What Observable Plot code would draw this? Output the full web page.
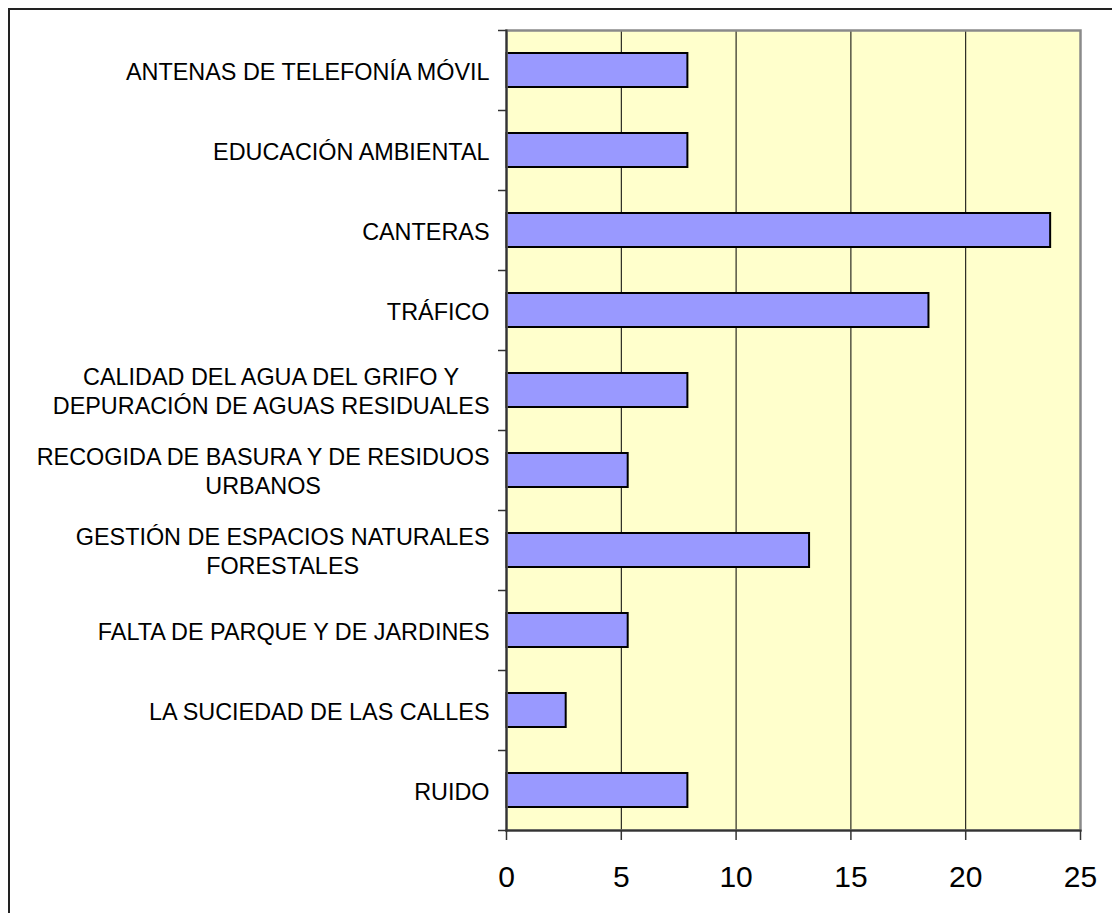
<!DOCTYPE html>
<html>
<head>
<meta charset="utf-8">
<script src="https://cdn.jsdelivr.net/npm/d3@7"></script>
<script src="https://cdn.jsdelivr.net/npm/@observablehq/plot@0.6"></script>
<style>
  html, body { margin: 0; padding: 0; background: #fff; overflow: hidden; }
  #wrap { position: relative; width: 1112px; height: 913px; }
  #border { position: absolute; left: 8px; top: 8px; width: 1200px; height: 1000px;
            border-left: 2px solid #222; border-top: 2px solid #222; box-sizing: border-box; pointer-events: none; }
  #chart { position: absolute; left: 0; top: 0; }
</style>
</head>
<body>
<div id="wrap"><div id="chart"></div><div id="border"></div></div>
<script>
const categories = [
  "ANTENAS DE TELEFONÍA MÓVIL",
  "EDUCACIÓN AMBIENTAL",
  "CANTERAS",
  "TRÁFICO",
  "CALIDAD DEL AGUA DEL GRIFO Y\nDEPURACIÓN DE AGUAS RESIDUALES",
  "RECOGIDA DE BASURA Y DE RESIDUOS\nURBANOS",
  "GESTIÓN DE ESPACIOS NATURALES\nFORESTALES",
  "FALTA DE PARQUE Y DE JARDINES",
  "LA SUCIEDAD DE LAS CALLES",
  "RUIDO"
];
const values = [7.9, 7.9, 23.7, 18.4, 7.9, 5.3, 13.2, 5.3, 2.6, 7.9];
const xTicks = [0, 5, 10, 15, 20, 25];
const gridTicks = [5, 10, 15, 20];

const data = categories.map((c, i) => ({category: c, value: values[i]}));

const W = 1112, H = 913;
const mL = 506, mR = 32, mT = 30, mB = 83;
const step = (H - mT - mB) / categories.length;

const chart = Plot.plot({
  width: W,
  height: H,
  marginLeft: mL,
  marginRight: mR,
  marginTop: mT,
  marginBottom: mB,
  style: {fontFamily: "'Liberation Sans', Arial, sans-serif", background: "transparent", color: "#000"},
  x: {domain: [0, 25], ticks: xTicks},
  y: {domain: categories, paddingInner: 0.575, paddingOuter: 0.2875},
  marks: [
    Plot.frame({fill: "#FFFFCC", stroke: null}),
    Plot.gridX(gridTicks, {stroke: "#000", strokeOpacity: 1, strokeWidth: 1}),
    Plot.barX(data, {x: "value", y: "category", fill: "#9999FF", stroke: "#000", strokeWidth: 2}),
    Plot.frame({stroke: "#8a8a8a", strokeWidth: 2.5}),
    Plot.frame({anchor: "left", stroke: "#333", strokeWidth: 2}),
    Plot.frame({anchor: "bottom", stroke: "#333", strokeWidth: 2}),
    Plot.ruleY(categories, {y: d => d, x1: 0, x2: 0, insetLeft: -8, dy: -step / 2, stroke: "#333", strokeWidth: 1.5}),
    Plot.ruleY(categories.slice(-1), {y: d => d, x1: 0, x2: 0, insetLeft: -8, dy: step / 2, stroke: "#333", strokeWidth: 1.5}),
    Plot.axisY({tickSize: 0, tickPadding: 17, fontSize: 23.4, lineHeight: 1.22, label: null}),
    Plot.axisX(xTicks, {tickSize: 10, tickPadding: 25, fontSize: 30, stroke: "#333", strokeWidth: 1.5, label: null})
  ]
});

document.getElementById("chart").appendChild(chart);

// center the lines of multi-line category labels on each other (right edge kept)
chart.querySelectorAll('g[aria-label="y-axis tick label"] text').forEach(t => {
  const spans = t.querySelectorAll("tspan");
  if (spans.length > 1) {
    const widths = Array.from(spans, s => s.getComputedTextLength());
    const maxW = Math.max(...widths);
    spans.forEach((s, i) => s.setAttribute("dx", -(maxW - widths[i]) / 2));
  }
});
</script>
</body>
</html>
